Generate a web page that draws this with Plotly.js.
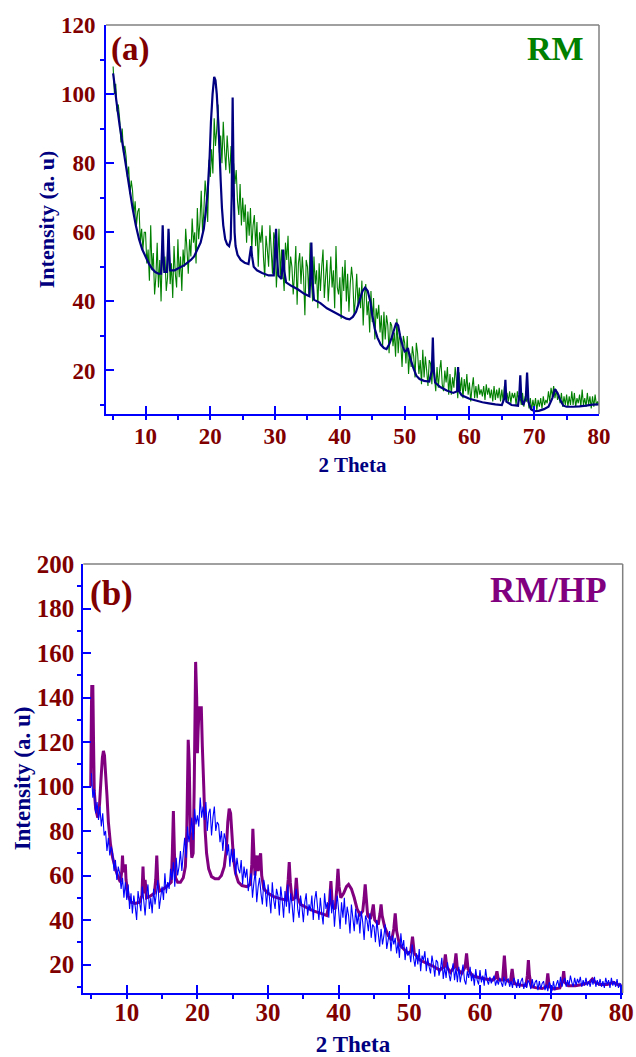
<!DOCTYPE html>
<html>
<head>
<meta charset="utf-8">
<script src="https://cdn.plot.ly/plotly-3.0.1.min.js"></script>
<style>html,body{margin:0;padding:0;background:#fff;}#chart{width:636px;height:1057px;}</style>
</head>
<body>
<div id="chart"></div>
<script>
// ---------- DATA ----------
// Scan grid (2 theta, step 0.2 deg) for the measured (noisy) patterns
const scanStart = 5.0, scanStep = 0.2, scanCount = 376;
const scanTheta = [];
for (let i = 0; i < scanCount; i++) scanTheta.push(+(scanStart + i * scanStep).toFixed(2));

// (a) RM measured pattern (green), one row per degree: x, x+.2, x+.4, x+.6, x+.8
const rmMeasured = [
  108, 100, 103, 95, 97,    93, 86, 90, 83, 85,      82, 76, 79, 71, 75,      72, 65, 69, 62, 66,
  67, 57, 61, 55, 60,       60, 51, 55, 46, 62,      49, 54, 42, 47, 57,      44, 52, 40, 55, 49,
  53, 43, 47, 60, 45,       51, 41, 56, 48, 44,      58, 47, 53, 43, 55,      50, 61, 55, 48, 58,
  53, 64, 57, 60, 51,       67, 58, 63, 72, 60,      66, 75, 70, 63, 81,      76, 84, 77, 93, 85,
  90, 97, 83, 88, 80,       92, 84, 78, 88, 82,      77, 85, 71, 80, 74,      78, 69, 65, 74, 62,
  70, 63, 68, 57, 66,       59, 67, 55, 62, 65,      56, 63, 50, 60, 57,      62, 53, 47, 59, 55,
  50, 62, 55, 48, 60,       58, 44, 52, 61, 47,      55, 49, 43, 57, 52,      59, 46, 53, 50, 42,
  48, 56, 39, 51, 54,       45, 53, 47, 36, 52,      50, 42, 57, 46, 40,      53, 45, 49, 38, 51,
  43, 50, 55, 41, 47,       52, 40, 46, 53, 44,      49, 38, 56, 44, 42,      47, 35, 50, 43, 52,
  40, 48, 37, 45, 50,       46, 36, 41, 48, 39,      44, 38, 46, 33, 42,      45, 36, 40, 31, 43,
  34, 41, 29, 38, 35,       39, 31, 36, 27, 37,      29, 36, 33, 25, 34,      33, 27, 31, 24, 35,
  25, 31, 28, 21, 30,       28, 22, 30, 19, 25,      21, 27, 24, 18, 28,      25, 19, 23, 16, 26,
  18, 24, 20, 15.5, 23,     22, 16, 24, 18, 14,      21, 15, 20, 23, 16,      14, 20, 16.5, 21, 13,
  19, 13, 18, 15, 21,       17, 12, 19.5, 14, 18,    12, 17.5, 14, 19, 13,    16.5, 11, 15, 18, 12,
  15.5, 12, 16, 13, 14.5,   12.5, 15.5, 11.5, 16, 13, 15, 12, 14.5, 11, 15.5, 11.5, 14.5, 12, 15, 11,
  14.5, 11, 15.5, 12, 13.5, 11, 14, 10.5, 13.5, 12,  13.5, 10, 14, 11, 12.5,  10, 13.5, 9.5, 12.5, 11,
  12.5, 9, 12, 8.5, 11.5,   9, 12, 8.5, 11.5, 9.5,   12, 9, 12.5, 10, 11.5,   10.5, 14, 11, 15, 12.5,
  15.5, 12, 14.5, 11.5, 13, 10.5, 13.5, 9.5, 12.5, 10, 13, 9.5, 12.5, 10, 14, 10, 13.5, 9.5, 12, 10.5,
  13, 9.5, 14.5, 10, 12,    9.5, 13.5, 10, 12.5, 9,  12.5, 9.5, 13, 10, 11,
  10
];

// (a) RM reference profile (navy): [2theta, intensity]
const rmProfile = [
  [5.0,106],[5.2,103],[5.5,98],[6,91],[6.5,85],[7,79],[7.5,73],[8,67],[8.5,62],[9,58],[9.5,55],[10,53],
  [10.5,51],[11,49.5],[11.5,48.5],[12,48],[12.4,48],[12.55,55],[12.65,62],[12.75,55],[12.9,48.5],[13.3,48.5],
  [13.45,55],[13.55,61],[13.65,55],[13.8,49],[14.5,49],[15,49.5],[16,50.5],[17,52],[17.5,53],[18,55],[18.5,57],
  [19,61],[19.3,66],[19.6,72],[19.9,82],[20.1,92],[20.35,100],[20.6,105],[20.8,104],[21.0,100],[21.2,93],
  [21.4,85],[21.6,75],[21.8,67],[22.0,62],[22.3,58],[22.6,56.5],[22.9,56],[23.15,58],[23.3,70],[23.45,99],
  [23.6,75],[23.75,60],[23.9,56],[24.2,53.5],[24.7,52],[25.3,51.2],[25.9,50.8],[26.15,54],[26.3,56],[26.45,53],
  [26.7,50],[27.2,49],[28,48.2],[29,47.5],[29.8,47.5],[30.0,55],[30.15,61],[30.3,53],[30.5,47.5],[31,46.5],
  [31.15,51],[31.25,55],[31.4,49],[31.7,45.5],[32.5,44.5],[33.5,43.5],[34.5,42.2],[35.3,41.5],[35.5,50],
  [35.6,57],[35.75,47],[36,40.5],[37,39.5],[38,38],[39,37],[40,36],[41,35],[41.5,34.8],[42,35.5],[42.5,37],
  [43,40],[43.5,43],[43.9,44],[44.3,43],[44.7,40],[45,36],[45.4,32],[45.8,29.5],[46.3,27.5],[46.8,26.5],
  [47.2,26.2],[47.6,27.5],[48,29.5],[48.4,32],[48.7,33.8],[49,33],[49.3,30],[49.7,27],[50,25.5],[50.3,25.8],
  [50.5,26.5],[50.8,24],[51.3,21],[51.8,18.5],[52.3,17.5],[53,17],[53.8,16.8],[54.2,20],[54.35,29.5],[54.5,20],
  [54.7,16.5],[55.5,15.2],[56.5,14.2],[57.5,13.5],[58.1,14],[58.25,21],[58.4,14],[58.8,12.8],[60,11.8],
  [61,11.3],[62,10.8],[63,10.5],[64,10.2],[65,10],[65.4,12],[65.55,17.3],[65.7,11],[66.5,10],[67.5,9.8],
  [67.7,13],[67.85,18.6],[68.0,12],[68.3,10],[68.7,12],[68.9,19.4],[69.1,11],[69.5,8.8],[70,8.2],[70.7,8.3],
  [71.5,8.8],[72.2,9.5],[72.8,12],[73.2,14.6],[73.6,13.5],[74,11.5],[74.5,9.8],[75,9.5],[76,9.5],[77,9.6],
  [78,9.8],[79,10.1],[80,10.2]
];

// (b) RM/HP measured pattern (blue), one row per degree: x, x+.2, x+.4, x+.6, x+.8
const rmhpMeasured = [
  106, 95, 99, 88, 93,      85, 91, 82, 88, 78,      80, 71, 77, 69, 73,      70, 62, 67, 58, 64,
  61, 54, 59, 50, 57,       49, 56, 45, 52, 43,      51, 46, 40, 53, 48,      44, 55, 49, 42, 51,
  56, 45, 50, 43, 54,       47, 52, 58, 45, 50,      55, 49, 61, 52, 57,      54, 63, 58, 66, 55,
  68, 60, 64, 71, 62,       70, 77, 68, 82, 75,      79, 86, 76, 90, 83,      87, 82, 95, 86, 91,
  85, 93, 80, 88, 90,       78, 86, 91, 80, 84,      83, 75, 80, 71, 79,      76, 69, 74, 64, 72,
  66, 72, 60, 68, 63,       61, 67, 56, 64, 59,      63, 53, 58, 61, 50,      57, 62, 48, 55, 59,
  52, 47, 58, 54, 46,       56, 50, 43, 57, 49,      45, 54, 51, 42, 55,      49, 41, 53, 46, 56,
  43, 52, 47, 39, 50,       54, 45, 41, 51, 46,      39, 48, 52, 42, 47,      44, 51, 40, 49, 53,
  46, 40, 50, 43, 38,       52, 45, 48, 41, 54,      43, 49, 37, 46, 51,      44, 36, 48, 41, 50,
  38, 46, 42, 34, 47,       41, 35, 45, 38, 43,      34, 44, 39, 31, 42,      40, 35, 43, 32, 38,
  37, 30, 40, 34, 28,       36, 29, 33, 38, 27,      31, 35, 26, 33, 29,      32, 25, 30, 23, 34,
  27, 31, 22, 28, 24,       26, 21, 29, 23, 19,      25, 20, 27, 17, 24,      22, 26, 17, 23, 19,
  16, 24, 20, 14.5, 22,     21, 15, 18, 23, 13.5,    19, 14, 21, 16, 12.5,    17, 20.5, 13, 18.5, 12,
  19, 12, 16, 20, 13,       11, 17, 14, 19, 12.5,    16, 10.5, 18, 13, 11,    17.5, 12, 15, 10.5, 18,
  13, 11, 14.5, 11.5, 13.5, 15, 10.5, 13, 11, 14,   12, 10, 14.5, 10.5, 13,  13.5, 10, 12.5, 9.5, 14,
  12, 9.5, 13.5, 9.5, 12.5, 14, 9, 12, 9.5, 13,     11.5, 9, 13.5, 9.5, 12,  13, 8.5, 12.5, 9, 11.5,
  12.5, 8.5, 11, 8, 12,     10.5, 8, 12.5, 8.5, 11,  13, 9.5, 14.5, 10, 12.5, 14, 10, 13, 10.5, 15,
  12, 10, 14, 10.5, 13.5,   11.5, 14.5, 10, 13, 10.5, 14, 10.5, 12.5, 10, 13.5, 11, 14.5, 10, 13, 10.5,
  13.5, 10, 12.5, 9.5, 14,  11, 13, 9.5, 14, 10.5,   12.5, 10, 13.5, 9.5, 11.5,
  11
];

// (b) RM/HP reference profile (purple): [2theta, intensity]
const rmhpProfile = [
  [4.9,100],[5.0,135],[5.05,145],[5.2,145],[5.3,120],[5.4,98],[5.6,90],[5.9,86],[6.15,92],[6.35,103],
  [6.55,113],[6.7,116],[6.85,114],[7.0,106],[7.2,96],[7.4,84],[7.7,74],[8.0,68],[8.4,63],[8.8,59],[9.1,57],
  [9.3,62],[9.4,69],[9.5,62],[9.7,62],[9.8,65],[9.9,58],[10.2,51],[10.6,48],[11.2,47.5],[11.8,48],[12.15,51],
  [12.3,64],[12.45,52],[12.6,58],[12.8,50],[13.2,50.5],[13.9,52],[14.1,58],[14.25,69],[14.4,57],[14.6,53],
  [15.2,54],[15.8,55.5],[16.3,57],[16.45,70],[16.6,89],[16.75,70],[16.9,59],[17.2,57],[17.6,57],[18.0,59],
  [18.3,64],[18.5,80],[18.7,121],[18.85,110],[19.0,80],[19.2,68],[19.4,70],[19.55,100],[19.75,156],[19.9,140],
  [20.0,115],[20.1,125],[20.25,136],[20.4,131],[20.55,136],[20.7,118],[20.9,100],[21.1,80],[21.3,70],[21.6,63],
  [22.0,59.5],[22.5,58.5],[23.0,58.5],[23.4,60],[23.8,64],[24.1,72],[24.3,84],[24.5,90],[24.7,88],[24.9,78],
  [25.1,68],[25.4,61],[25.8,57],[26.3,55.5],[27.0,55],[27.5,56],[27.7,65],[27.85,81],[28.0,70],[28.15,60],
  [28.3,66],[28.45,69],[28.6,62],[28.8,68],[28.95,70],[29.1,60],[29.4,54],[30.0,52],[30.8,50.5],[31.8,49.5],
  [32.6,49],[32.85,58],[33.0,66],[33.15,57],[33.4,49],[33.8,50],[34.0,59],[34.2,50],[34.6,47],[35.5,45.5],
  [36.5,44],[37.5,43],[38.3,42],[38.7,48],[38.9,57.5],[39.1,46],[39.5,45],[39.75,55],[39.9,63],[40.05,55],
  [40.3,50],[40.7,52],[41.1,55],[41.4,56],[41.8,54],[42.2,50],[42.6,45],[43.0,42.5],[43.4,44],[43.6,50],
  [43.75,56],[43.9,50],[44.1,42],[44.5,40.5],[44.75,44],[44.9,47],[45.1,40],[45.6,38],[45.85,43],[46.0,47],
  [46.15,42],[46.5,37],[47.0,33],[47.5,31],[47.8,36],[48.0,43],[48.2,35],[48.6,29],[49.2,27],[49.8,25],
  [50.2,26],[50.45,32.5],[50.7,25],[51.5,22],[52.5,20.5],[53.5,19],[54.3,17.5],[54.9,19],[55.1,24.5],
  [55.3,19],[55.8,16.5],[56.4,19],[56.6,25],[56.8,18],[57.4,16],[57.9,19],[58.1,25],[58.3,18],[58.9,15],
  [59.8,14.2],[60.8,13.5],[61.8,13],[62.2,14],[62.4,17],[62.6,13],[63.2,13],[63.45,24],[63.7,13],[64.3,12],
  [64.55,18],[64.8,11.5],[65.7,10.8],[66.5,10.5],[66.7,15],[66.85,22],[67.0,15],[67.3,10],[68.0,9.5],
  [68.8,9.2],[69.4,10],[69.6,16],[69.8,10],[70.5,9],[71.3,9.5],[71.7,13],[71.85,17],[72.0,12],[72.5,10.5],
  [73.5,10.5],[74.5,11],[75.5,12],[75.9,13.5],[76.3,12],[77.0,11],[78.0,11],[78.9,12],[79.5,11],[80.0,10.5]
];

const xTickValsA = [10, 20, 30, 40, 50, 60, 70, 80];
const yTickValsA = [20, 40, 60, 80, 100, 120];
const xTickValsB = [10, 20, 30, 40, 50, 60, 70, 80];
const yTickValsB = [20, 40, 60, 80, 100, 120, 140, 160, 180, 200];

// ---------- STYLE ----------
const SERIF = 'Liberation Serif, Times New Roman, serif';
const TICK_COLOR = '#800000';
const TITLE_COLOR = '#000080';
const AXIS_BLUE = '#0000FF';

function axisBase(extra) {
  return Object.assign({
    showline: true, linecolor: AXIS_BLUE, linewidth: 2,
    ticks: 'inside', ticklen: 8, tickwidth: 2, tickcolor: AXIS_BLUE,
    showgrid: false, zeroline: false, automargin: false, fixedrange: true,
    tickfont: {family: SERIF, size: 23, color: TICK_COLOR, weight: 'bold'}
  }, extra);
}
function minorTicks(dtick, tick0) {
  return {ticks: 'outside', ticklen: 4, tickwidth: 2, tickcolor: AXIS_BLUE, dtick: dtick, tick0: tick0, showgrid: false};
}

const traces = [
  {x: scanTheta, y: rmMeasured, xaxis: 'x', yaxis: 'y', type: 'scatter', mode: 'lines',
   line: {color: '#008000', width: 1.1, simplify: false}, name: 'RM'},
  {x: rmProfile.map(p => p[0]), y: rmProfile.map(p => p[1]), xaxis: 'x', yaxis: 'y', type: 'scatter', mode: 'lines',
   line: {color: '#000080', width: 2.2, simplify: false}, name: 'RM profile'},
  {x: rmhpProfile.map(p => p[0]), y: rmhpProfile.map(p => p[1]), xaxis: 'x2', yaxis: 'y2', type: 'scatter', mode: 'lines',
   line: {color: '#800080', width: 3, simplify: false}, name: 'RM/HP profile'},
  {x: scanTheta, y: rmhpMeasured, xaxis: 'x2', yaxis: 'y2', type: 'scatter', mode: 'lines',
   line: {color: '#0000FF', width: 1.1, simplify: false}, name: 'RM/HP'}
];

const layout = {
  width: 636, height: 1057,
  margin: {l: 0, r: 0, t: 0, b: 0},
  paper_bgcolor: '#ffffff', plot_bgcolor: '#ffffff',
  showlegend: false,
  xaxis: axisBase({domain: [106/636, 599/636], range: [3.9, 80], anchor: 'y',
    tickvals: xTickValsA, ticklabelstandoff: 0, minor: minorTicks(5, 5),
    title: {text: '2 Theta', standoff: 10, font: {family: SERIF, size: 21, color: TITLE_COLOR, weight: 'bold'}}}),
  yaxis: axisBase({domain: [1 - 414/1057, 1 - 25/1057], range: [7.4, 120], anchor: 'x',
    tickvals: yTickValsA, ticklabelstandoff: 4, minor: minorTicks(20, 10),
    title: {text: 'Intensity (a. u)', standoff: 0, font: {family: SERIF, size: 22, color: TITLE_COLOR, weight: 'bold'}}}),
  xaxis2: axisBase({domain: [83.3/636, 622.7/636], range: [3.85, 80.2], anchor: 'y2',
    tickvals: xTickValsB, ticklabelstandoff: -4, minor: minorTicks(5, 5),
    tickfont: {family: SERIF, size: 25, color: TICK_COLOR, weight: 'bold'},
    title: {text: '2 Theta', standoff: 20, font: {family: SERIF, size: 23, color: TITLE_COLOR, weight: 'bold'}}}),
  yaxis2: axisBase({domain: [1 - 993/1057, 1 - 564/1057], range: [7.2, 200], anchor: 'x2',
    tickvals: yTickValsB, ticklabelstandoff: 2, minor: minorTicks(20, 10),
    tickfont: {family: SERIF, size: 25, color: TICK_COLOR, weight: 'bold'},
    title: {text: 'Intensity (a. u)', standoff: 0, font: {family: SERIF, size: 23, color: TITLE_COLOR, weight: 'bold'}}}),
  shapes: [
    {type: 'line', xref: 'x domain', yref: 'y domain', x0: 0, x1: 1, y0: 1, y1: 1, line: {color: '#808080', width: 1.5}},
    {type: 'line', xref: 'x domain', yref: 'y domain', x0: 1, x1: 1, y0: 0, y1: 1, line: {color: '#808080', width: 1.5}},
    {type: 'line', xref: 'x2 domain', yref: 'y2 domain', x0: 0, x1: 1, y0: 1, y1: 1, line: {color: '#808080', width: 1.5}},
    {type: 'line', xref: 'x2 domain', yref: 'y2 domain', x0: 1, x1: 1, y0: 0, y1: 1, line: {color: '#808080', width: 1.5}}
  ],
  annotations: [
    {text: '(a)', xref: 'paper', yref: 'paper', x: 109/636, y: 1 - 50/1057, xanchor: 'left', yanchor: 'middle',
     showarrow: false, font: {family: SERIF, size: 33, color: '#800000', weight: 'bold'}},
    {text: 'RM', xref: 'paper', yref: 'paper', x: 586/636, y: 1 - 48/1057, xanchor: 'right', yanchor: 'middle',
     showarrow: false, font: {family: SERIF, size: 34, color: '#008000', weight: 'bold'}},
    {text: '(b)', xref: 'paper', yref: 'paper', x: 88/636, y: 1 - 593/1057, xanchor: 'left', yanchor: 'middle',
     showarrow: false, font: {family: SERIF, size: 35, color: '#800000', weight: 'bold'}},
    {text: 'RM/HP', xref: 'paper', yref: 'paper', x: 609/636, y: 1 - 590/1057, xanchor: 'right', yanchor: 'middle',
     showarrow: false, font: {family: SERIF, size: 35, color: '#800080', weight: 'bold'}}
  ]
};

Plotly.newPlot('chart', traces, layout, {displayModeBar: false, staticPlot: true});
</script>
</body>
</html>
